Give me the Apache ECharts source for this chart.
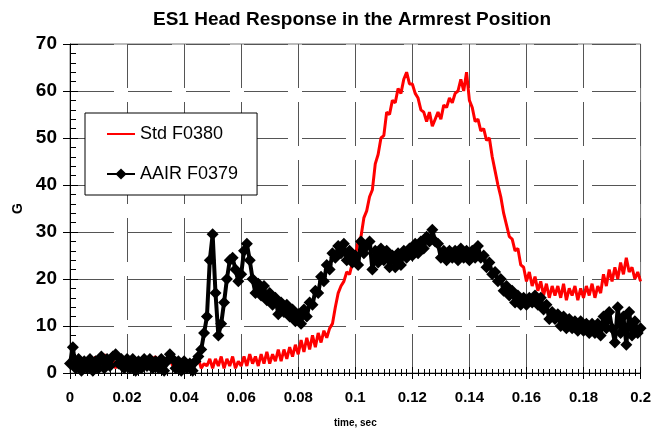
<!DOCTYPE html>
<html>
<head>
<meta charset="utf-8">
<script src="https://cdn.jsdelivr.net/npm/echarts@6/dist/echarts.min.js"></script>
<style>
	html, body { margin: 0; padding: 0; background: #fff; }
	#container { width: 654px; height: 433px; }
</style>
</head>
<body>
<div id="container"></div>
<script>
// sampling: one reading per millisecond, 0 .. 0.2 s
var t0 = 0;
var dt = 0.001;

var xTicks = [0, 0.02, 0.04, 0.06, 0.08, 0.1, 0.12, 0.14, 0.16, 0.18, 0.2];
var yTicks = [0, 10, 20, 30, 40, 50, 60, 70];

// Std F0380 (red)
var stdF0380 = [
	1.5, 2.5, 1.0, 2.0, 3.0, 1.5, 2.5, 1.0, 2.0, 3.5,
	1.0, 2.5, 4.0, 2.0, 1.5, 3.0, 1.0, 2.5, 2.0, 3.0,
	1.5, 2.5, 1.0, 3.0, 2.0, 1.5, 2.5, 1.0, 2.0, 3.0,
	3.5, 1.5, 2.0, 1.0, 2.5, 3.0, 1.5, 2.0, 1.0, 3.0,
	2.0, 1.0, 2.5, 1.5, 2.0, 3.0, 1.0, 2.0, 1.5, 3.0,
	1.0, 3.0, 1.5, 3.5, 1.0, 3.0, 1.5, 3.5, 1.0, 2.5,
	1.5, 3.5, 1.5, 4.0, 2.0, 3.5, 1.5, 4.0, 2.0, 4.5,
	2.0, 4.0, 2.5, 5.0, 2.5, 5.0, 3.0, 5.5, 3.5, 6.0,
	4.0, 7.0, 4.5, 7.5, 5.0, 8.0, 5.5, 8.5, 6.5, 9.0,
	7.5, 9.5, 10.5, 14.0, 17.0, 18.5, 19.5, 21.5, 21.0, 23.5,
	25.0, 28.0, 29.0, 33.0, 34.5, 37.5, 39.0, 44.5, 46.5, 50.0,
	50.5, 55.5, 55.0, 58.0, 57.5, 60.5, 59.5, 62.5, 64.0, 61.5,
	61.5, 59.5, 58.5, 56.0, 55.5, 53.5, 55.5, 52.5, 54.0, 55.5,
	54.0, 57.0, 56.5, 58.5, 57.5, 59.5, 60.0, 62.5, 60.0, 64.0,
	58.0, 56.5, 53.5, 54.0, 51.5, 52.0, 49.5, 50.0, 46.0, 43.0,
	40.0, 37.5, 34.0, 31.5, 29.0, 28.5, 26.0, 26.5, 23.0, 22.5,
	19.5, 21.5, 18.5, 20.5, 17.5, 19.5, 16.5, 19.0, 16.0, 18.5,
	16.5, 18.5, 16.0, 19.0, 15.5, 18.0, 16.5, 18.5, 15.5, 18.0,
	16.0, 18.5, 16.5, 19.0, 16.0, 18.5, 17.0, 21.0, 18.5, 22.0,
	19.5, 22.5, 20.0, 23.5, 21.0, 24.5, 21.5, 22.5, 20.0, 21.5,
	19.5
];

// AAIR F0379 (black, diamonds)
var aairF0379 = [
	2.0, 5.5, 1.0, 3.0, 0.5, 2.5, 1.0, 3.0, 0.5, 2.5,
	1.0, 3.5, 1.0, 3.0, 1.5, 3.5, 4.0, 2.0, 3.0, 1.0,
	3.0, 1.0, 3.0, 0.5, 2.5, 1.0, 3.0, 1.5, 3.0, 1.0,
	2.5, 1.0, 3.0, 0.5, 2.5, 4.0, 3.0, 1.0, 2.5, 0.5,
	2.5, 1.0, 2.0, 0.5, 2.5, 3.5, 5.0, 8.5, 12.0, 24.0,
	29.5, 17.0, 8.0, 10.5, 15.0, 20.0, 24.0, 24.5, 22.0, 19.5,
	21.0, 26.0, 27.5, 24.0, 20.0, 17.0, 19.0, 16.5, 18.5, 15.5,
	17.0, 14.5, 16.0, 12.5, 15.0, 13.0, 14.5, 12.0, 13.5, 11.0,
	12.5, 10.5, 13.5, 12.0, 15.0, 14.5, 17.5, 17.0, 20.5, 19.5,
	23.0, 22.0, 25.5, 24.5, 27.0, 25.5, 27.5, 24.0, 26.0, 23.5,
	25.0, 23.0, 28.0, 25.5, 27.0, 28.0, 22.0, 26.0, 23.5, 26.5,
	24.0, 26.0, 22.5, 25.0, 22.5, 25.5, 23.0, 26.0, 24.5, 26.5,
	25.0, 27.5, 25.5, 28.0, 26.5, 29.0, 28.0, 30.5, 28.0, 27.5,
	24.5, 26.0, 24.0, 26.0, 24.5, 26.0, 24.0, 26.5, 24.5, 26.0,
	24.0, 26.0, 24.5, 27.0, 24.5, 25.0, 22.5, 23.5, 21.0, 21.5,
	19.5, 20.0, 17.5, 18.5, 16.5, 17.5, 15.0, 16.5, 14.5, 16.0,
	14.5, 16.0, 15.0, 16.5, 14.5, 16.0, 13.5, 14.5, 11.5, 13.0,
	11.5, 12.5, 10.0, 12.0, 9.5, 11.5, 9.5, 11.0, 9.0, 11.0,
	9.0, 10.5, 8.5, 10.5, 8.5, 10.5, 8.0, 12.0, 9.5, 13.0,
	9.5, 6.5, 14.0, 8.5, 12.0, 6.0, 13.0, 8.0, 11.0, 8.5,
	9.5
];

function pairs(vals) {
	var out = [];
	for (var i = 0; i < vals.length; i++) {
		out.push([+(t0 + i * dt).toFixed(3), vals[i]]);
	}
	return out;
}

var FONT = '"Liberation Sans", Arial, Helvetica, sans-serif';

var dom = document.getElementById("container");
var myChart = echarts.init(dom);

var tickFmt = function(v) { return String(+(+v).toFixed(3)); };

var option = {
	animation: false,
	backgroundColor: '#fff',
	title: {
		text: 'ES1 Head Response in the Armrest Position',
		left: 148,
		top: 5,
		textStyle: {
			fontFamily: FONT,
			fontSize: 19,
			fontWeight: 'bold',
			color: '#000'
		}
	},
	legend: {
		left: 85,
		top: 113,
		orient: 'vertical',
		backgroundColor: '#fff',
		borderColor: '#000',
		borderWidth: 1,
		borderRadius: 0,
		padding: [12, 19, 12, 21],
		itemWidth: 28,
		itemHeight: 14,
		itemGap: 22,
		textStyle: {
			fontFamily: FONT,
			fontSize: 18,
			color: '#000'
		},
		data: [
			{ name: 'Std F0380', itemStyle: { opacity: 0 } },
			{ name: 'AAIR F0379' }
		]
	},
	grid: {
		left: 70,
		right: 13,
		top: 44,
		bottom: 60,
		show: true,
		borderColor: '#777',
		borderWidth: 1
	},
	xAxis: [
		{
			type: 'value',
			min: xTicks[0],
			max: xTicks[xTicks.length - 1],
			interval: 0.02,
			name: 'time, sec',
			nameLocation: 'middle',
			nameGap: 45,
			nameTextStyle: { fontFamily: FONT, fontSize: 10, fontWeight: 'bold', color: '#000' },
			axisLine: { show: true, onZero: false, lineStyle: { color: '#000', width: 1 } },
			axisTick: { show: true, inside: false, length: 6, lineStyle: { color: '#000' } },
			minorTick: { show: true, splitNumber: 10, length: 3, lineStyle: { color: '#000' } },
			axisLabel: {
				margin: 17,
				fontFamily: FONT,
				fontSize: 15,
				fontWeight: 'bold',
				color: '#000',
				formatter: tickFmt
			},
			splitLine: { show: true, lineStyle: { color: '#555', width: 1, type: [44, 14] } }
		},
		{
			type: 'value',
			position: 'bottom',
			min: xTicks[0],
			max: xTicks[xTicks.length - 1],
			interval: 0.02,
			axisLine: { show: false },
			axisTick: { show: true, inside: true, length: 6, lineStyle: { color: '#000' } },
			minorTick: { show: true, splitNumber: 10, length: 4, lineStyle: { color: '#000' } },
			axisLabel: { show: false },
			splitLine: { show: false }
		}
	],
	yAxis: [
		{
			type: 'value',
			min: yTicks[0],
			max: yTicks[yTicks.length - 1],
			interval: 10,
			name: 'G',
			nameLocation: 'middle',
			nameGap: 42,
			nameRotate: 90,
			nameTextStyle: { fontFamily: FONT, fontSize: 14, fontWeight: 'bold', color: '#000' },
			axisLine: { show: true, onZero: false, lineStyle: { color: '#000', width: 1 } },
			axisTick: { show: true, inside: false, length: 7, lineStyle: { color: '#000' } },
			axisLabel: {
				margin: 13,
				fontFamily: FONT,
				fontSize: 19,
				fontWeight: 'bold',
				color: '#000'
			},
			splitLine: { show: true, lineStyle: { color: '#555', width: 1, type: [44, 14] } }
		},
		{
			type: 'value',
			position: 'left',
			min: yTicks[0],
			max: yTicks[yTicks.length - 1],
			interval: 10,
			axisLine: { show: false },
			axisTick: { show: true, inside: true, length: 8, lineStyle: { color: '#000' } },
			minorTick: { show: true, splitNumber: 5, length: 6, lineStyle: { color: '#000' } },
			axisLabel: { show: false },
			splitLine: { show: false }
		}
	],
	series: [
		{
			name: 'Std F0380',
			type: 'line',
			xAxisIndex: 0,
			yAxisIndex: 0,
			showSymbol: false,
			symbol: 'none',
			color: '#ff0000',
			lineStyle: { color: '#ff0000', width: 3 },
			data: pairs(stdF0380)
		},
		{
			name: 'AAIR F0379',
			type: 'line',
			xAxisIndex: 0,
			yAxisIndex: 0,
			symbol: 'diamond',
			symbolSize: 12,
			showSymbol: true,
			showAllSymbol: true,
			color: '#000',
			itemStyle: { color: '#000' },
			lineStyle: { color: '#000', width: 4 },
			data: pairs(aairF0379)
		}
	]
};

if (option && typeof option === "object") {
	myChart.setOption(option, true);
}
</script>
</body>
</html>
